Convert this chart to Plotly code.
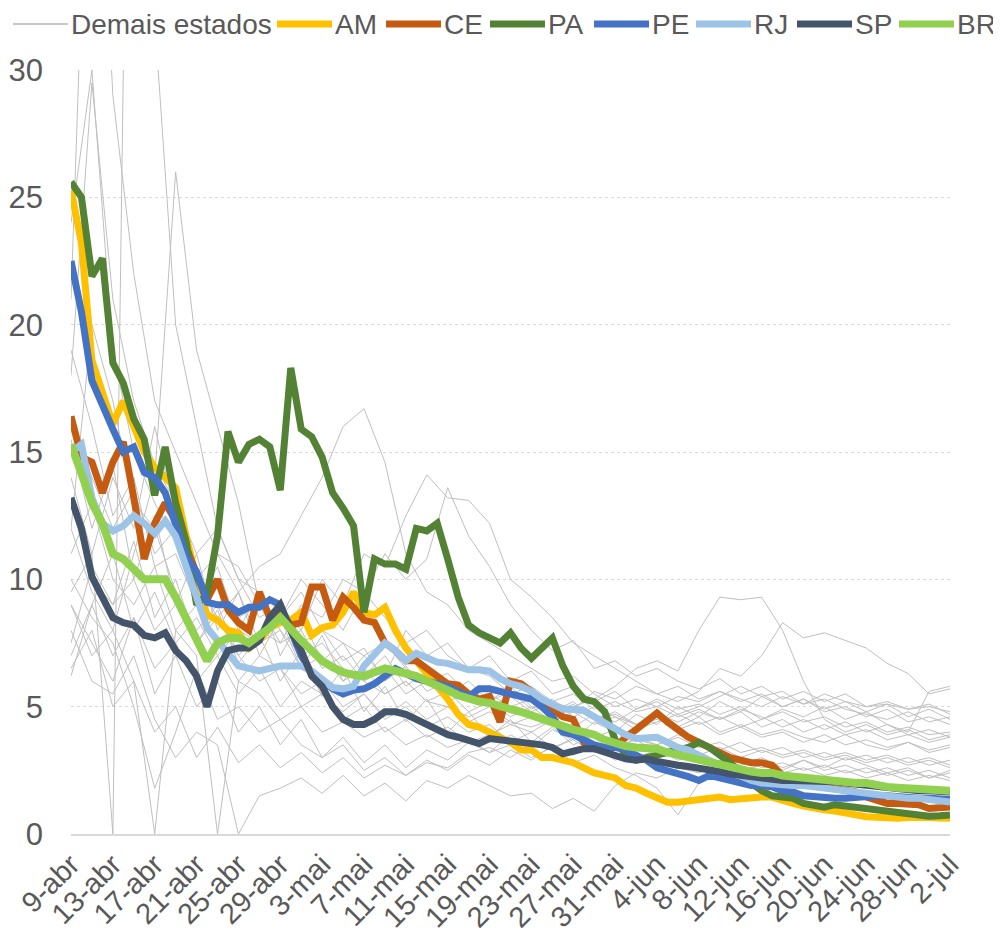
import datetime
import plotly.graph_objects as go

# daily categories 9-abr .. 2-jul
meses = {4: "abr", 5: "mai", 6: "jun", 7: "jul"}
inicio = datetime.date(2020, 4, 9)
dias = [inicio + datetime.timedelta(days=i) for i in range(85)]
datas = [f"{d.day}-{meses[d.month]}" for d in dias]
datas_2d = datas[::2]  # grey series sampled every 2 days

AM = [25.3, 23.2, 18.6, 17.4, 16.1, 17.0, 16.0, 15.0, 14.4, 14.0,
      13.6, 11.7, 10.0, 8.6, 8.4, 8.0, 7.9, 7.3, 7.6, 8.1,
      8.3, 8.4, 8.7, 7.8, 8.1, 8.2, 8.7, 9.5, 8.7, 8.6,
      8.9, 8.0, 7.3, 6.8, 6.3, 5.9, 5.3, 4.7, 4.3, 4.2,
      4.0, 3.8, 3.6, 3.3, 3.3, 3.0, 3.0, 2.9, 2.8, 2.6,
      2.4, 2.3, 2.2, 1.9, 1.8, 1.6, 1.4, 1.25, 1.25, 1.3,
      1.35, 1.4, 1.45, 1.35, 1.4, 1.45, 1.45, 1.45, 1.3, 1.2,
      1.1, 1.0, 0.95, 0.9, 0.8, 0.75, 0.68, 0.65, 0.6, 0.62,
      0.65, 0.67, 0.65, 0.63, 0.62]

CE = [16.4, 14.8, 14.6, 13.4, 14.6, 15.4, 13.2, 10.8, 12.2, 13.0,
      12.3, 11.3, 10.2, 9.2, 10.0, 8.8, 8.3, 8.0, 9.5, 8.5,
      8.8, 8.2, 8.3, 9.7, 9.7, 8.4, 9.3, 8.9, 8.4, 8.3,
      7.5, 7.2, 6.8, 6.8, 6.5, 6.2, 5.9, 5.85, 5.5, 5.3,
      5.4, 4.4, 6.0, 5.9, 5.6, 5.2, 4.9, 4.6, 4.5, 3.6,
      3.4, 3.3, 3.4, 3.8, 4.1, 4.4, 4.75, 4.4, 4.1, 3.8,
      3.6, 3.4, 3.2, 3.0, 2.9, 2.8, 2.8, 2.7, 2.3, 2.1,
      1.9, 1.9, 1.85, 1.75, 1.7, 1.65, 1.45, 1.33, 1.2, 1.2,
      1.15, 1.15, 1.0, 1.0, 1.06]

PA = [25.6, 25.0, 21.9, 22.6, 18.5, 17.7, 16.3, 15.5, 13.3, 15.2,
      13.0, 11.5, 9.0, 9.4, 11.7, 15.8, 14.6, 15.3, 15.5, 15.2,
      13.5, 18.3, 15.9, 15.6, 14.8, 13.4, 12.8, 12.1, 8.7, 10.8,
      10.6, 10.6, 10.4, 12.0, 11.9, 12.2, 10.8, 9.3, 8.2, 7.9,
      7.7, 7.5, 7.9, 7.3, 6.9, 7.3, 7.7, 6.6, 5.8, 5.3,
      5.2, 4.8, 3.7, 3.1, 2.9, 3.0, 3.1, 3.2, 3.3, 3.4,
      3.6, 3.4, 3.1, 2.8, 2.4, 2.0, 1.7, 1.5, 1.45, 1.4,
      1.2, 1.1, 1.05, 1.15, 1.1, 1.05, 1.0, 0.95, 0.95, 0.9,
      0.8, 0.75, 0.7, 0.72, 0.75]

PE = [22.5, 20.5, 17.8, 16.8, 15.9, 15.0, 15.2, 14.2, 14.0, 13.4,
      12.2, 10.9, 10.3, 9.1, 9.0, 9.0, 8.7, 8.9, 8.9, 9.2,
      9.0, 8.0, 7.0, 6.3, 6.0, 5.7, 5.5, 5.65, 5.7, 5.9,
      6.2, 6.5, 6.3, 6.1, 6.0, 5.9, 5.8, 5.6, 5.4, 5.7,
      5.7, 5.6, 5.5, 5.45, 5.3, 5.0, 4.6, 4.0, 3.9, 3.7,
      3.5, 3.4, 3.4, 3.3, 3.1, 2.9, 2.6, 2.5, 2.4, 2.25,
      2.1, 2.3, 2.2, 2.1, 2.0, 1.9, 1.9, 1.85, 1.7, 1.65,
      1.5, 1.45, 1.45, 1.4, 1.4, 1.45, 1.5, 1.5, 1.5, 1.45,
      1.45, 1.4, 1.4, 1.35, 1.35]

RJ = [15.0, 15.3, 13.2, 12.2, 11.9, 12.1, 12.5, 12.2, 11.8, 12.3,
      11.7, 10.4, 9.3, 8.1, 7.6, 7.1, 6.6, 6.5, 6.4, 6.5,
      6.6, 6.6, 6.6, 6.4, 6.05, 5.75, 5.7, 5.8, 6.6, 7.1,
      7.5, 7.2, 6.8, 7.1, 6.9, 6.75, 6.7, 6.55, 6.45, 6.45,
      6.4, 6.1, 5.9, 5.8, 5.6, 5.3, 5.1, 4.9, 4.9, 4.85,
      4.6, 4.35, 4.1, 3.9, 3.75, 3.75, 3.8, 3.6, 3.4, 3.3,
      3.1, 2.95, 2.7, 2.45, 2.25, 2.1, 2.0, 1.95, 1.9, 1.9,
      1.9, 1.85, 1.8, 1.75, 1.7, 1.65, 1.6, 1.5, 1.45, 1.45,
      1.4, 1.4, 1.35, 1.3, 1.26]

SP = [13.2, 12.0, 10.1, 9.3, 8.5, 8.3, 8.2, 7.8, 7.7, 7.9,
      7.2, 6.8, 6.2, 5.0, 6.4, 7.2, 7.3, 7.3, 7.6, 8.5,
      9.0, 8.0, 7.2, 6.2, 5.8, 5.0, 4.5, 4.3, 4.3, 4.5,
      4.8, 4.8, 4.7, 4.5, 4.3, 4.05, 3.9, 3.8, 3.7, 3.55,
      3.75, 3.7, 3.7, 3.65, 3.6, 3.5, 3.4, 3.15, 3.25, 3.35,
      3.35, 3.2, 3.05, 2.95, 2.9, 2.95, 2.85, 2.75, 2.7, 2.65,
      2.6, 2.5, 2.45, 2.35, 2.3, 2.2, 2.2, 2.15, 2.1, 2.1,
      2.1, 2.1, 2.05, 2.05, 2.0, 1.95, 1.9, 1.85, 1.85, 1.8,
      1.75, 1.7, 1.7, 1.65, 1.65]

BR = [15.3, 14.2, 13.0, 12.2, 11.0, 10.8, 10.4, 10.0, 10.0, 10.0,
      9.3, 8.5, 7.7, 6.8, 7.5, 7.7, 7.7, 7.5, 7.8, 8.1,
      8.5, 8.0, 7.6, 7.2, 6.8, 6.55, 6.35, 6.25, 6.2, 6.35,
      6.5, 6.4, 6.3, 6.2, 6.0, 5.85, 5.65, 5.45, 5.3, 5.2,
      5.15, 5.0, 4.9, 4.8, 4.65, 4.55, 4.4, 4.25, 4.1, 4.0,
      3.9, 3.7, 3.55, 3.45, 3.4, 3.4, 3.35, 3.2, 3.1, 3.0,
      2.9, 2.8, 2.7, 2.6, 2.5, 2.45, 2.4, 2.4, 2.3, 2.25,
      2.2, 2.15, 2.1, 2.1, 2.05, 2.0, 2.0, 1.9, 1.85, 1.82,
      1.8, 1.75, 1.7, 1.7, 1.7]

# other states, one value every 2 days (9-abr, 11-abr, ... 2-jul)
demais = [
    [21, 45, 29, 22, 17, 15, 13, 11, 10.5, 9, 8.5, 9.5, 8, 7.5, 7, 7.5, 6.5, 6, 6.3, 5.5, 5.2, 5.8,
     5, 4.8, 5.2, 4.5, 4.7, 4.3, 4.5, 4.2, 4.6, 4.0, 4.3, 3.9, 4.1, 3.8, 3.6, 3.9, 3.5, 3.3, 3.6, 3.2, 3.4],
    [14, 11, 0, 60, 32, 20, 16, 12, 10, 9.5, 8, 7, 7.5, 6.5, 6, 5.5, 6, 5.2, 5, 4.6, 5, 4.4,
     4.2, 4.5, 4, 3.8, 4.1, 3.7, 3.5, 3.8, 3.4, 3.6, 3.2, 3.4, 3.1, 3.3, 3.0, 3.2, 2.9, 3.1, 2.8, 3.0, 2.7],
    [9, 7, 8, 11, 14, 26, 19, 16, 13, 9, 8.5, 10, 9, 8, 9.5, 8.5, 7.5, 8, 7, 6.5, 6.2, 5.5,
     5.8, 5.2, 5.5, 4.9, 5.2, 4.8, 5.0, 4.6, 4.9, 4.5, 4.8, 4.2, 4.5, 4.0, 4.3, 3.9, 4.1, 3.7, 3.9, 3.6, 3.8],
    [12, 9.5, 8, 6, 0, 8, 9, 7.5, 6, 7, 6.5, 5.5, 6, 5, 5.5, 4.5, 5, 4.2, 4.6, 4, 4.3, 3.6,
     4, 3.4, 3.7, 3.2, 3.5, 3.0, 3.3, 2.9, 3.1, 2.7, 3.0, 2.6, 2.8, 2.5, 2.7, 2.4, 2.6, 2.3, 2.5, 2.2, 2.4],
    [11, 13, 10, 9, 10.5, 8, 7, 0, 6, 5.5, 4.5, 5, 4, 4.4, 3.8, 4.2, 3.5, 3.9, 3.4, 3.7, 3.2, 3.5,
     3.0, 3.4, 3.1, 3.6, 3.3, 3.8, 3.5, 3.9, 3.6, 3.3, 3.6, 3.2, 3.4, 3.0, 3.2, 2.9, 3.1, 2.8, 3.0, 2.7, 2.9],
    [8, 6, 5.5, 7, 4.5, 3, 4, 3.5, 0, 1.5, 1.8, 2.2, 1.6, 2.3, 1.5, 2.0, 1.3, 2.1, 1.8, 2.3, 1.9, 1.5,
     1.6, 1.0, 1.4, 0.9, 1.9, 2.4, 2.2, 2.6, 2.4, 2.8, 2.5, 2.7, 2.4, 2.6, 2.3, 2.5, 2.2, 2.4, 2.1, 2.3, 2.1],
    [10, 8.5, 7.5, 5, 1.8, 4, 6.5, 4.5, 5, 4, 4.5, 3.5, 3, 3.5, 2.5, 3, 2.3, 2.8, 2.6, 3.2, 3.4, 3.0,
     3.6, 3.3, 3.8, 3.4, 2.9, 3.2, 2.6, 2.8, 2.5, 2.9, 2.7, 3.0, 2.6, 2.9, 2.5, 2.7, 2.4, 2.6, 2.3, 2.5, 2.2],
    [16, 14, 12, 13.5, 11, 12, 10, 11, 9.5, 10.5, 11, 12.5, 14, 16, 16.7, 14.6, 11, 9.5, 9, 8, 7.5, 7,
     6.5, 6, 6.2, 5.5, 5, 5.3, 5.0, 5.4, 5.2, 5.6, 5.3, 5.0, 5.4, 5.1, 5.5, 5.2, 4.8, 5.1, 4.6, 4.9, 4.5],
    [7, 9, 11, 8, 9.5, 7.5, 8.5, 7, 8, 7.5, 9, 8, 10, 9, 11, 10.5, 12.5, 14.1, 13.2, 13.1, 12.2, 10,
     9.3, 8.5, 7.5, 7, 6.5, 6, 5.5, 5.8, 5.3, 5.6, 5.2, 5.5, 5.0, 5.3, 4.8, 5.0, 4.6, 4.9, 4.4, 4.6, 4.3],
    [13, 10, 9, 10, 8, 9, 7.5, 8.5, 7, 8, 7.5, 9, 8.5, 10, 9.5, 11, 10, 10.8, 13.6, 11.7, 10.5, 9,
     8, 7.2, 7.6, 6.5, 6.8, 6.2, 6.5, 6.0, 5.7, 6.1, 5.5, 5.8, 5.3, 5.6, 5.2, 5.5, 5.0, 5.2, 4.9, 5.1, 4.7],
    [6.2, 9, 7, 8.5, 6.5, 7.5, 6, 7, 5.5, 6.5, 5, 6, 5.5, 4.8, 5.5, 4.6, 5.2, 4.5, 5.0, 4.4, 4.8, 4.3,
     4.6, 4.5, 5.0, 5.3, 5.8, 6.5, 6.8, 6.4, 8.0, 9.3, 9.2, 9.3, 8.0, 6.0, 4.5, 4.0, 4.3, 3.9, 4.1, 3.7, 3.9],
    [9.5, 11, 14, 12, 16, 12.5, 9, 10, 8.5, 9, 7.5, 8, 6.5, 7, 6, 6.5, 5.5, 6, 5.2, 5.6, 5.0, 5.4,
     4.8, 5.2, 4.9, 5.6, 5.3, 5.8, 5.5, 5.2, 5.6, 6.5, 6.2, 7.0, 8.3, 7.7, 7.9, 7.6, 7.3, 6.7, 6.3, 5.5, 5.7],
    [12, 20, 17, 13, 12, 9.5, 8, 9, 7, 6, 6.5, 5, 5.5, 4.5, 5, 4, 4.5, 3.8, 4.2, 3.6, 3.9, 4.3,
     4.0, 4.5, 4.2, 4.7, 4.4, 4.9, 5.3, 4.9, 5.1, 4.7, 5.0, 4.5, 4.8, 4.4, 4.6, 4.2, 4.4, 4.0, 4.2, 3.9, 4.0],
    [6.5, 8, 5, 6, 4, 5, 3, 4.2, 2.8, 3.5, 2.6, 3.2, 2.4, 3.0, 2.2, 2.7, 2.3, 2.9, 2.5, 3.1, 2.7, 3.3,
     2.9, 3.5, 2.8, 3.1, 2.6, 2.3, 1.8, 0.75, 2.0, 2.6, 2.3, 2.8, 2.5, 2.9, 2.6, 3.0, 2.7, 2.4, 2.6, 2.2, 2.5],
    [19, 16, 12.5, 14, 10.5, 11, 9, 10.5, 8, 9.5, 7, 8.5, 6.8, 7.5, 6.2, 7.0, 5.8, 6.4, 5.5, 6.0, 5.2, 5.6,
     4.9, 5.3, 4.6, 5.0, 4.6, 4.3, 4.7, 4.4, 4.8, 4.5, 4.9, 4.6, 4.2, 4.5, 4.1, 4.4, 4.0, 4.3, 3.9, 4.1, 3.8],
    [24, 30, 19, 15, 13, 11.5, 10, 8.5, 9.5, 7.5, 8, 6.5, 7, 6, 6.5, 5.5, 6, 5.2, 5.6, 4.8, 5.2, 4.6,
     5.0, 4.4, 4.8, 4.3, 4.6, 4.1, 4.4, 4.7, 4.3, 4.6, 4.2, 4.5, 4.9, 4.6, 5.0, 4.5, 4.8, 4.3, 4.0, 5.6, 5.8],
    [7.5, 10.5, 9, 11.5, 8.5, 10, 7.5, 8.8, 6.7, 7.8, 6, 7.2, 5.4, 6.5, 4.8, 5.8, 4.4, 5.3, 4.0, 4.8, 3.8, 4.5,
     3.6, 4.2, 3.5, 3.9, 3.4, 3.7, 3.2, 3.5, 3.1, 3.4, 3.0, 3.3, 3.0, 3.2, 2.9, 3.1, 2.8, 3.0, 2.7, 2.9, 2.6],
    [15.5, 12, 14.5, 10, 12.5, 9, 11, 8, 9.5, 7, 8.5, 6.5, 7.8, 6, 7, 6.2, 8, 7, 7.5, 6.5, 7, 6.0,
     6.4, 5.5, 5.8, 5.2, 5.6, 4.9, 5.2, 4.7, 5.0, 5.4, 5.8, 5.4, 5.6, 5.1, 5.3, 4.9, 4.7, 4.5, 4.8, 4.4, 4.6],
    [18, 29.5, 21, 17, 14.5, 13, 11, 12, 10, 8.5, 9, 7.5, 8, 6.8, 7.3, 6, 6.6, 5.6, 6.0, 5.2, 5.5, 5.0,
     5.3, 4.7, 5.1, 4.5, 4.8, 4.3, 4.6, 4.1, 4.4, 3.9, 4.2, 3.8, 4.0, 3.6, 3.9, 3.5, 3.7, 3.4, 3.6, 3.3, 3.5],
    [9, 7.5, 6, 8.5, 5.5, 7, 5, 6, 4, 5, 3.5, 4.5, 3, 3.8, 2.8, 3.5, 2.6, 3.3, 2.9, 3.6, 3.2, 3.9,
     3.4, 4.1, 3.7, 4.4, 4.0, 4.7, 4.3, 5.0, 4.6, 5.2, 4.8, 5.4, 5.0, 5.3, 4.9, 5.2, 5.0, 5.1, 4.9, 5.0, 4.8],
]

estados = ["AM", "CE", "PA", "PE", "RJ", "SP", "BR"]
series = [AM, CE, PA, PE, RJ, SP, BR]
cores = ["#FFC000", "#C55A11", "#548235", "#4472C4", "#9DC3E6", "#44546A", "#92D050"]

# the page body adds an 8px margin, so the figure is 8px smaller than the window
W, H = 993, 932
L, R, T, B = 63, 51, 62, 106
pw, ph = W - L - R, H - T - B

fig = go.Figure()

for ys in demais:
    fig.add_trace(go.Scatter(
        x=datas_2d, y=ys, mode="lines", name="Demais estados", showlegend=False,
        line=dict(color="#BFBFBF", width=1),
    ))

for nome, ys, cor in zip(estados, series, cores):
    fig.add_trace(go.Scatter(
        x=datas, y=ys, mode="lines", name=nome, showlegend=False,
        line=dict(color=cor, width=8 if nome == "BR" else 7),
    ))

# legend row drawn by hand: sample line start (px, figure coords) for each entry
leg_nomes = ["Demais estados"] + estados
leg_cores = ["#C8C8C8"] + cores
leg_x = [5, 269, 378, 482, 586, 688, 789, 891]
leg_y = (H - B - 16) / ph
for nome, cor, px in zip(leg_nomes, leg_cores, leg_x):
    fig.add_shape(type="line", xref="paper", yref="paper",
                  x0=(px - L) / pw, x1=(px + 55 - L) / pw, y0=leg_y, y1=leg_y,
                  line=dict(color=cor, width=2 if nome == "Demais estados" else 7))
    fig.add_annotation(text=nome, xref="paper", yref="paper", x=(px + 56 - L) / pw, y=leg_y,
                       xanchor="left", yanchor="middle", showarrow=False,
                       font=dict(size=28, color="#595959"))

fig.update_layout(
    width=W, height=H,
    margin=dict(l=L, r=R, t=T, b=B, autoexpand=False),
    plot_bgcolor="white", paper_bgcolor="white",
    font=dict(family="Liberation Sans, Arial, sans-serif", color="#595959", size=27),
    showlegend=False,
)

fig.update_xaxes(
    type="category", categoryorder="array", categoryarray=datas,
    range=[0, 84], tickmode="array", tickvals=datas[::4], ticktext=datas[::4],
    tickangle=-45, tickfont=dict(size=29, color="#595959"),
    showgrid=False, showline=True, linecolor="#D9D9D9", linewidth=2,
    ticks="", automargin=False,
)

fig.update_yaxes(
    range=[0, 30], dtick=5, tickfont=dict(size=31, color="#595959"),
    showgrid=True, gridcolor="#D9D9D9", griddash="dot", gridwidth=1,
    zeroline=False, ticks="", ticklabelstandoff=27, automargin=False,
)

fig.write_html("out.html")
